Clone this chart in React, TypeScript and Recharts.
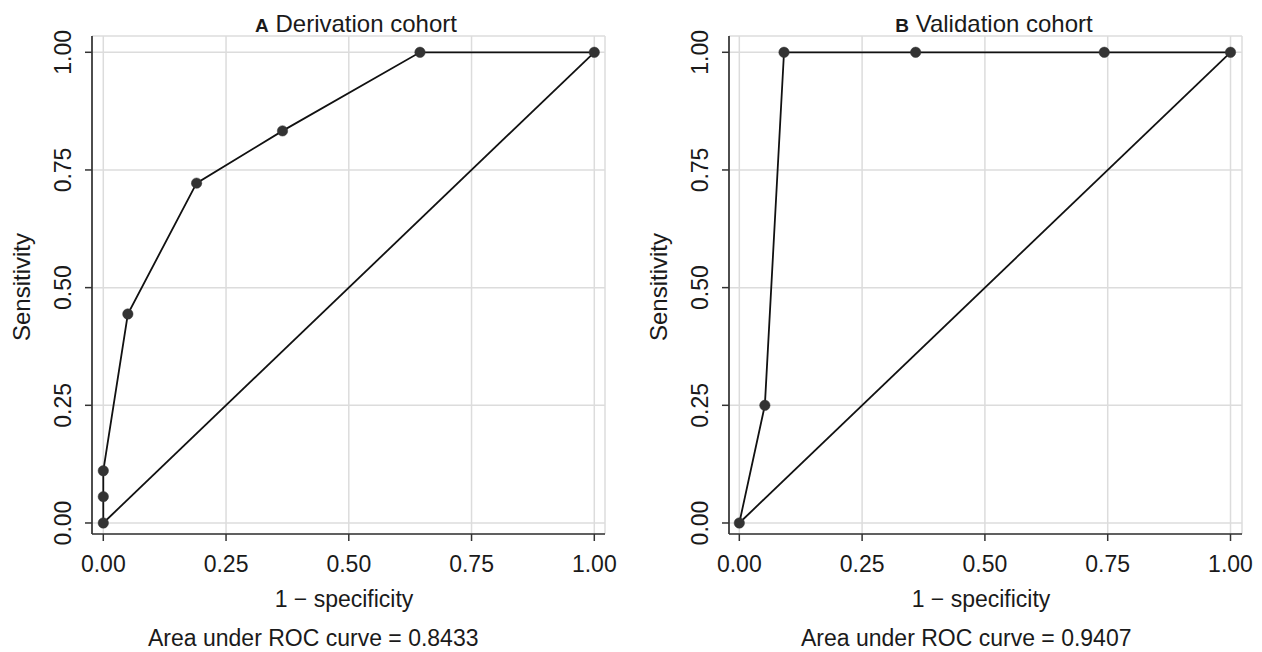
import React from "react";
import { LineChart, Line, XAxis, YAxis, CartesianGrid } from "recharts";

const ticks = [0, 0.25, 0.5, 0.75, 1];

const derivX = [0, 0, 0, 0.05, 0.19, 0.365, 0.645, 1];
const derivY = [0, 0.056, 0.111, 0.444, 0.722, 0.833, 1, 1];

const validX = [0, 0.052, 0.091, 0.359, 0.743, 1];
const validY = [0, 0.25, 1, 1, 1, 1];

const diagX = [0, 1];
const diagY = [0, 1];

const FONT = "'Liberation Sans', Arial, Helvetica, sans-serif";
const TEXT = "#1a1a1a";

const toPts = (xs: number[], ys: number[]) => xs.map((x, i) => ({ x, y: ys[i] }));

const YTick = (props: any) => {
  const { x, y, payload } = props;
  return (
    <text
      x={x}
      y={y}
      transform={`rotate(-90 ${x} ${y})`}
      textAnchor="middle"
      fontSize={23}
      fontFamily={FONT}
      fill={TEXT}
    >
      {Number(payload.value).toFixed(2)}
    </text>
  );
};

type PanelProps = {
  left: number;
  yAxisWidth: number;
  rightMargin: number;
  xDomain: [number, number];
  roc: { x: number; y: number }[];
};

const Panel = ({ left, yAxisWidth, rightMargin, xDomain, roc }: PanelProps) => (
  <div style={{ position: "absolute", left, top: 0 }}>
    <LineChart
      width={631}
      height={652}
      margin={{ top: 36, right: rightMargin, bottom: 0, left: 0 }}
      style={{ fontFamily: FONT }}
    >
      <CartesianGrid stroke="#dcdcdc" strokeWidth={1.5} horizontal vertical />
      <XAxis
        type="number"
        dataKey="x"
        domain={xDomain}
        allowDataOverflow
        ticks={ticks}
        tickFormatter={(v: number) => v.toFixed(2)}
        tickSize={7}
        tickMargin={15}
        stroke="#333"
        strokeWidth={1.7}
        tick={{ fontSize: 23, fill: TEXT, fontFamily: FONT }}
        tickLine={{ stroke: "#333", strokeWidth: 1.5 }}
        height={118}
      />
      <YAxis
        type="number"
        dataKey="y"
        domain={[-0.0234, 1.0346]}
        allowDataOverflow
        ticks={ticks}
        width={yAxisWidth}
        tickSize={7}
        tickMargin={14}
        stroke="#333"
        strokeWidth={1.7}
        tick={<YTick />}
        tickLine={{ stroke: "#333", strokeWidth: 1.5 }}
      />
      <Line
        data={toPts(diagX, diagY)}
        dataKey="y"
        stroke="#111"
        strokeWidth={1.8}
        dot={false}
        isAnimationActive={false}
      />
      <Line
        data={roc}
        dataKey="y"
        stroke="#111"
        strokeWidth={1.8}
        dot={{ r: 5.2, fill: "#333", stroke: "#333", strokeWidth: 0.5 }}
        isAnimationActive={false}
      />
    </LineChart>
  </div>
);

export default function App() {
  return (
    <div
      style={{
        position: "absolute",
        left: 0,
        top: 0,
        width: 1262,
        height: 652,
        background: "#fff",
        overflow: "hidden",
      }}
    >
      <Panel
        left={0}
        yAxisWidth={92}
        rightMargin={26}
        xDomain={[-0.023, 1.0218]}
        roc={toPts(derivX, derivY)}
      />
      <Panel
        left={631}
        yAxisWidth={98}
        rightMargin={20}
        xDomain={[-0.021, 1.0234]}
        roc={toPts(validX, validY)}
      />
      <svg
        width={1262}
        height={652}
        style={{ position: "absolute", left: 0, top: 0, pointerEvents: "none" }}
        fontFamily={FONT}
        fill={TEXT}
      >
        <text x={356} y={32} textAnchor="middle">
          <tspan fontWeight="bold" fontSize={19}>A</tspan>
          <tspan fontSize={24}> Derivation cohort</tspan>
        </text>
        <text x={994} y={32} textAnchor="middle">
          <tspan fontWeight="bold" fontSize={19}>B</tspan>
          <tspan fontSize={24}> Validation cohort</tspan>
        </text>
        <text x={30} y={287} transform="rotate(-90 30 287)" textAnchor="middle" fontSize={24}>
          Sensitivity
        </text>
        <text x={667} y={287} transform="rotate(-90 667 287)" textAnchor="middle" fontSize={24}>
          Sensitivity
        </text>
        <text x={344} y={607} textAnchor="middle" fontSize={23}>
          1 − specificity
        </text>
        <text x={981} y={607} textAnchor="middle" fontSize={23}>
          1 − specificity
        </text>
        <text x={148} y={646} textAnchor="start" fontSize={23}>
          Area under ROC curve = 0.8433
        </text>
        <text x={801} y={646} textAnchor="start" fontSize={23}>
          Area under ROC curve = 0.9407
        </text>
      </svg>
    </div>
  );
}
